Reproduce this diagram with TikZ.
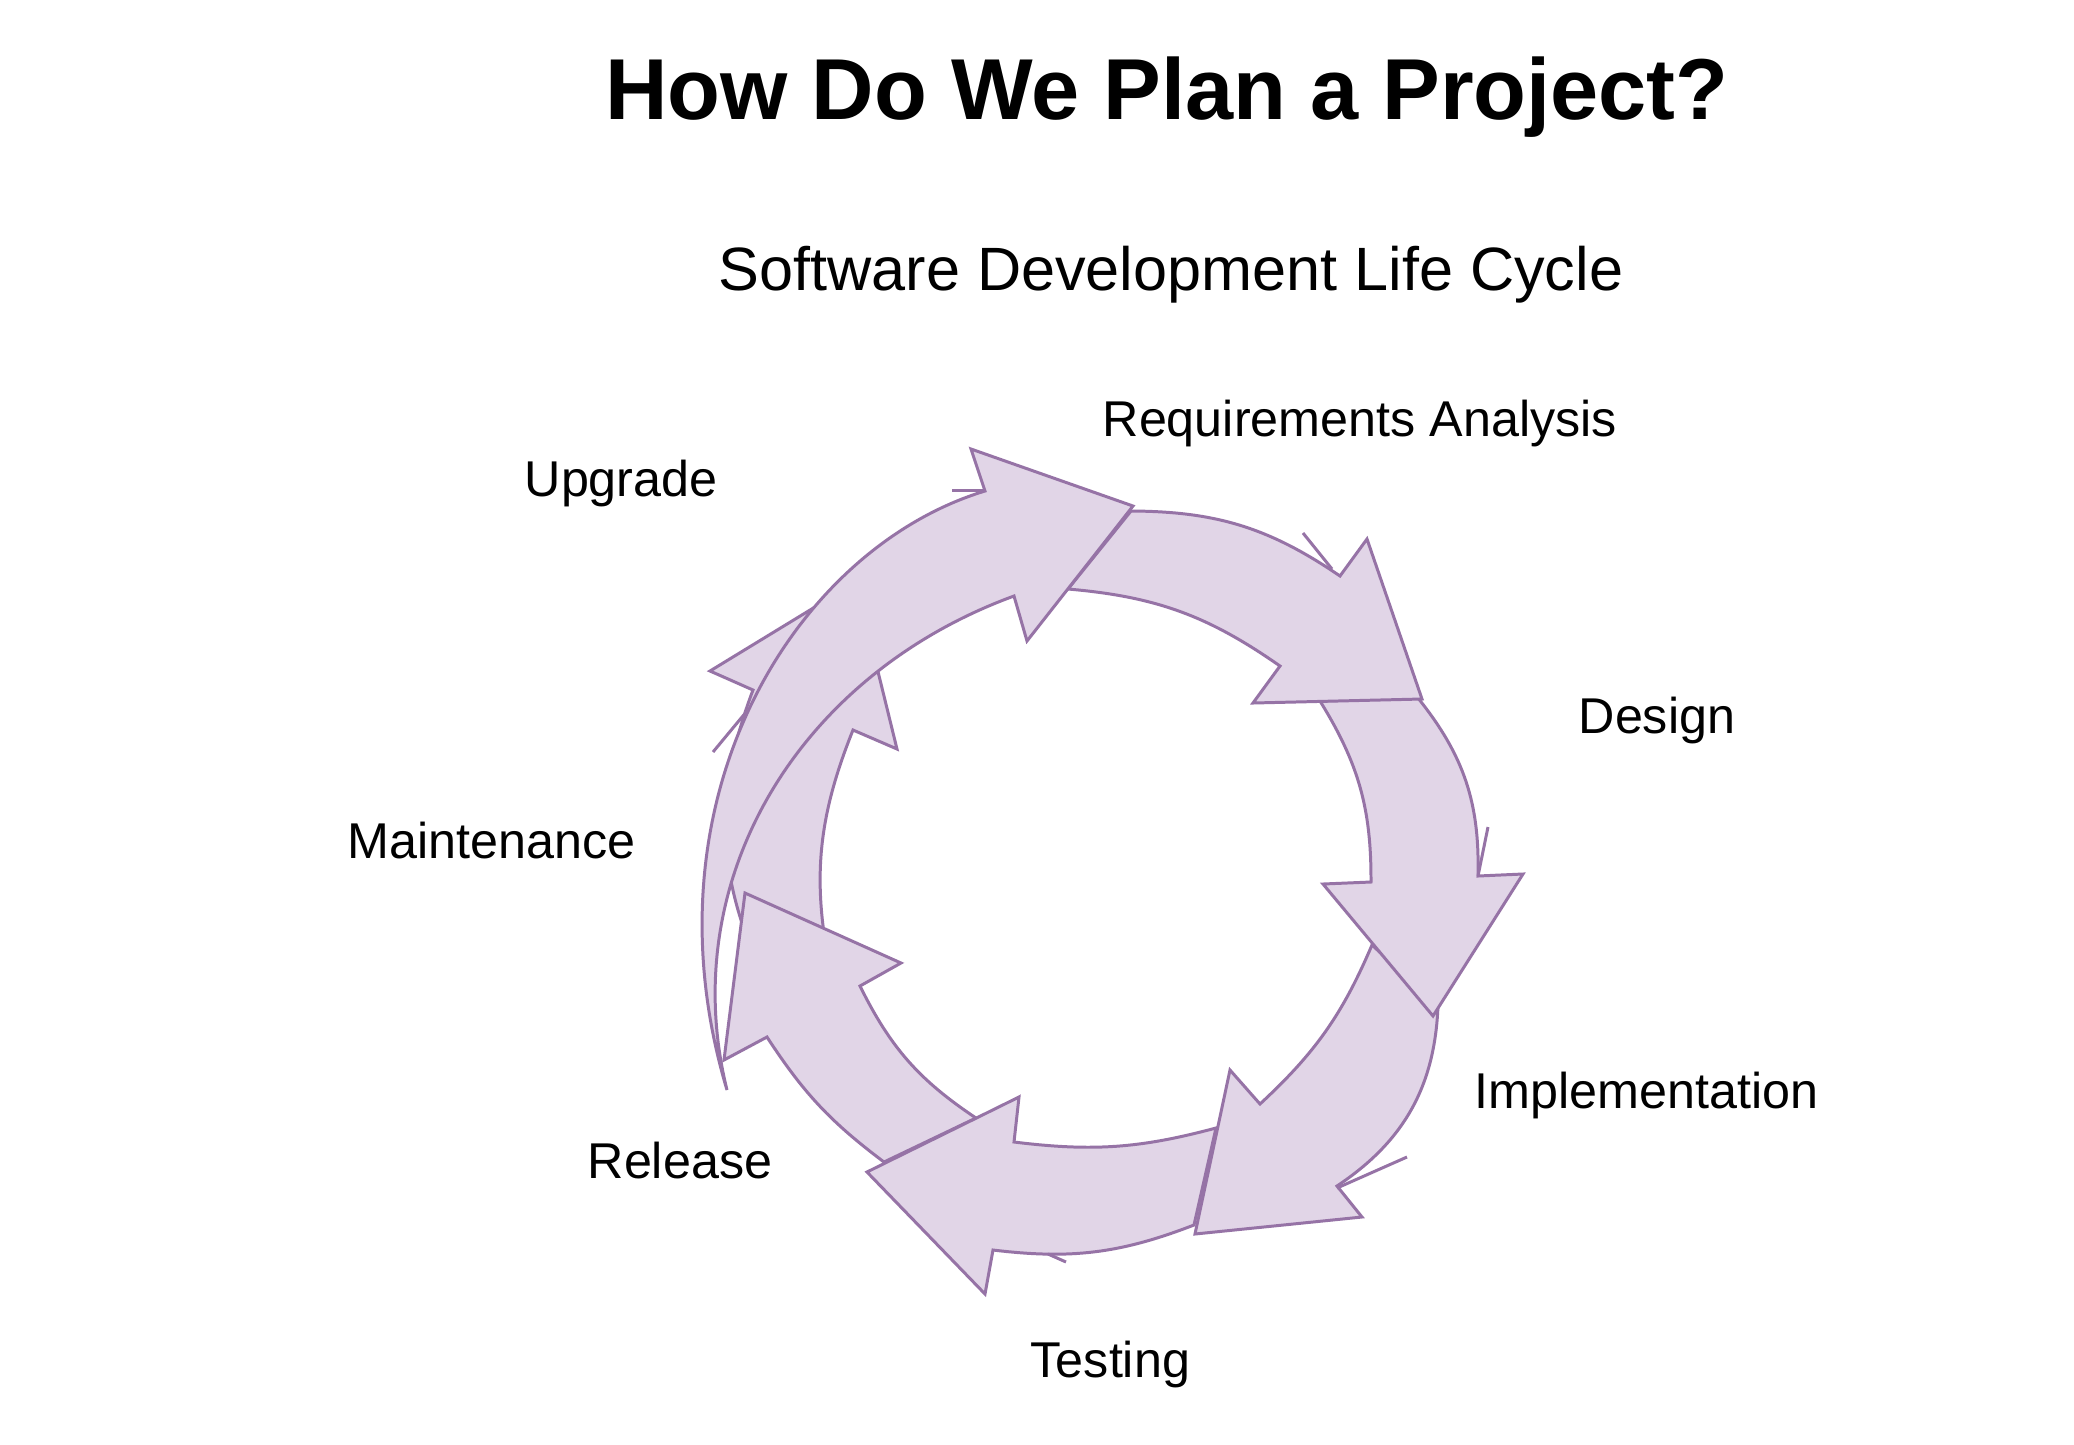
\documentclass[tikz,border=0pt]{standalone}
\usepackage{fontspec}
\setmainfont{Liberation Sans}
\definecolor{arrowfill}{HTML}{E1D5E7}
\definecolor{arrowline}{HTML}{9673A6}
\begin{document}
\begin{tikzpicture}[x=0.01cm,y=-0.01cm,
  cyclearrow/.style={fill=arrowfill,draw=arrowline,line width=0.85pt,line join=miter},
  stubline/.style={draw=arrowline,line width=0.85pt},
  lbl/.style={inner sep=0pt,anchor=base west,font=\fontsize{14.3}{17}\selectfont},
  ttl/.style={inner sep=0pt,anchor=base,font=\fontsize{24.6}{29}\selectfont\bfseries},
  subttl/.style={inner sep=0pt,anchor=base,font=\fontsize{17.4}{21}\selectfont}]
\useasboundingbox[fill=white] (0,0) rectangle (2074,1444);

% Maintenance arrow
\path[cyclearrow] (765,980) to[bend left=23] (753,690)
  -- (710,671) -- (856,582) -- (897,749) -- (853,730)
  to[bend right=17] (832,978) -- cycle;
\draw[stubline] (713,752) -- (747,711);

% Release arrow
\path[cyclearrow] (884,1162) to[bend left=10] (767,1037)
  -- (724,1060) -- (745,893) -- (901,963) -- (860,986)
  to[bend right=15] (976,1118) -- cycle;

% Testing arrow
\path[cyclearrow] (1194,1225) to[bend left=14] (993,1250)
  -- (985,1294) -- (867,1172) -- (1019,1097) -- (1014,1142)
  to[bend right=11] (1216,1128) -- cycle;
\draw[stubline] (1066,1262) -- (1048,1254);

% Implementation arrow
\path[cyclearrow] (1438,1006) to[bend left=27] (1337,1186)
  -- (1362,1217) -- (1195,1234) -- (1230,1070) -- (1260,1104)
  to[bend right=12] (1372,945) -- cycle;
\draw[stubline] (1407,1157) -- (1337,1188);

% Design arrow
\path[cyclearrow] (1418,698) to[bend left=20] (1478,876)
  -- (1523,874) -- (1433,1016) -- (1323,884) -- (1371,882)
  to[bend right=16] (1320,701) -- cycle;
\draw[stubline] (1488,827) -- (1478,876);

% Requirements Analysis arrow
\path[cyclearrow] (1131,511) to[bend left=17] (1340,576)
  -- (1367,539) -- (1422,699) -- (1253,703) -- (1280,666)
  to[bend right=15] (1068,589) -- cycle;
\draw[stubline] (1303,533) -- (1332,569);

% Upgrade arrow
\path[cyclearrow] (1014,596) .. controls (798,675) and (675,880) .. (727,1090)
  .. controls (640,800) and (794,549) .. (985,491)
  -- (971,449) -- (1133,506) -- (1027,641) -- cycle;
\draw[stubline] (952,490) -- (985,490);

% Texts
\node[ttl] (title) at (1167,119) {How Do We Plan a Project?};
\node[subttl] (subtitle) at (1171,290) {Software Development Life Cycle};
\node[lbl] (req) at (1102,436) {Requirements Analysis};
\node[lbl] (upg) at (524,496) {Upgrade};
\node[lbl] (des) at (1578,733) {Design};
\node[lbl] (mnt) at (347,858) {Maintenance};
\node[lbl] (imp) at (1474,1108) {Implementation};
\node[lbl] (rel) at (587,1178) {Release};
\node[lbl] (tst) at (1030,1377) {Testing};
\end{tikzpicture}
\end{document}
